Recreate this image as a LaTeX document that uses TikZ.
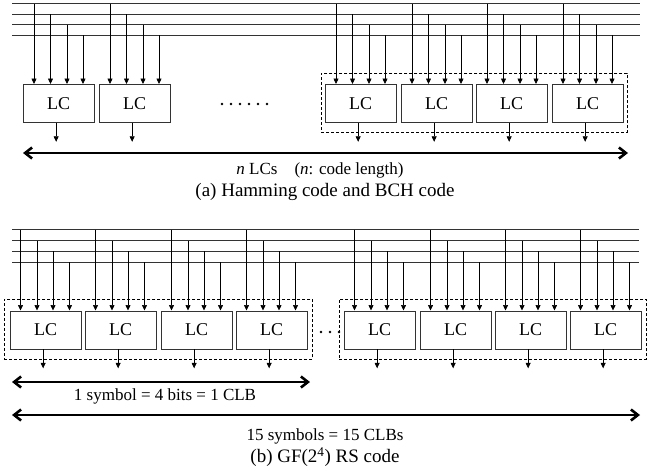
\documentclass[tikz,border=0pt]{standalone}
\usepackage{fontspec}
\setmainfont{Liberation Serif}
\usetikzlibrary{arrows.meta,calc}
\begin{document}
\begin{tikzpicture}[x=1pt,y=-1pt,
  bus/.style={line width=0.8pt, black!80},
  lcbox/.style={draw=black!80, line width=0.8pt, minimum width=70.5pt, minimum height=38pt, inner sep=0pt, anchor=north west, font=\fontsize{18}{20}\selectfont},
  inarr/.style={line width=0.7pt, black, -{Triangle[length=5.5pt,width=5pt]}},
  bigarr/.style={line width=2.6pt, {Straight Barb[length=7pt,width=11pt]}-{Straight Barb[length=7pt,width=11pt]}},
  grp/.style={draw, line width=0.7pt, dash pattern=on 3pt off 2pt},
  dotmark/.style={circle, fill, inner sep=0pt, minimum size=2.6pt},
  lbl/.style={font=\fontsize{17}{19}\selectfont},
  captext/.style={font=\fontsize{19}{21}\selectfont}]
\useasboundingbox (0,0) rectangle (647,471);

% ---------- (a) ----------
\foreach \k/\yy in {0/3.5,1/14,2/24.5,3/35}{
  \coordinate (abus\k) at (12,\yy);
  \coordinate (abusr\k) at (640,\yy);
  \draw[bus] (abus\k) -- (abusr\k);
}
\foreach \n/\x in {1/23,2/99,3/325,4/401,5/476,6/552}{
  \node[lcbox] (a\n) at (\x,84) {LC};
}
\node[grp, inner sep=0pt, minimum width=306pt, minimum height=59pt, anchor=north west] (agrp) at (321,73) {};
\foreach \n in {1,...,6}{
  \foreach \k/\o in {0/11,1/27.5,2/44,3/60}{
    \draw[inarr] ([xshift=\o pt]a\n.north west |- abus\k) -- ([xshift=\o pt]a\n.north west);
  }
  \draw[inarr] ([xshift=-2.5pt]a\n.south) -- ++(0,19);
}
\foreach \i in {0,...,5}{
  \node[dotmark] (ad\i) at (222+9*\i,104) {};
}
\coordinate (aL) at (23,153);
\coordinate (aR) at (628,153);
\draw[bigarr] (aL) -- (aR);
\node[lbl] (alabel) at (320,170) {\textit{n} LCs\quad(\textit{n}: code length)};
\node[captext] (acap) at (325,192) {(a) Hamming code and BCH code};

% ---------- (b) ----------
\foreach \k/\yy in {0/229.5,1/240.5,2/251.3,3/262}{
  \coordinate (bbus\k) at (12,\yy);
  \coordinate (bbusr\k) at (639,\yy);
  \draw[bus] (bbus\k) -- (bbusr\k);
}
\foreach \n/\x in {1/10,2/85,3/161,4/236,5/344,6/420,7/495,8/570}{
  \node[lcbox] (b\n) at (\x,310.5) {LC};
}
\node[grp, inner sep=0pt, minimum width=308pt, minimum height=60pt, anchor=north west] (bgrp1) at (4,299) {};
\node[grp, inner sep=0pt, minimum width=307pt, minimum height=60pt, anchor=north west] (bgrp2) at (339,299) {};
\foreach \n in {1,...,8}{
  \foreach \k/\o in {0/10.5,1/27,2/43,3/59.5}{
    \draw[inarr] ([xshift=\o pt]b\n.north west |- bbus\k) -- ([xshift=\o pt]b\n.north west);
  }
  \draw[inarr] ([xshift=-2.5pt]b\n.south) -- ++(0,19);
}
\foreach \i in {0,...,2}{
  \node[dotmark] (bd\i) at (321+9*\i,332) {};
}
\coordinate (sL) at (12,382);
\coordinate (sR) at (310,382);
\draw[bigarr] (sL) -- (sR);
\node[lbl] (slabel) at (165,396) {1 symbol = 4 bits = 1 CLB};
\coordinate (bL) at (12,415);
\coordinate (bR) at (640,415);
\draw[bigarr] (bL) -- (bR);
\node[lbl] (blabel) at (325,436) {15 symbols = 15 CLBs};
\node[captext] (bcap) at (325,457) {(b) GF(2\textsuperscript{4}) RS code};
\end{tikzpicture}
\end{document}
